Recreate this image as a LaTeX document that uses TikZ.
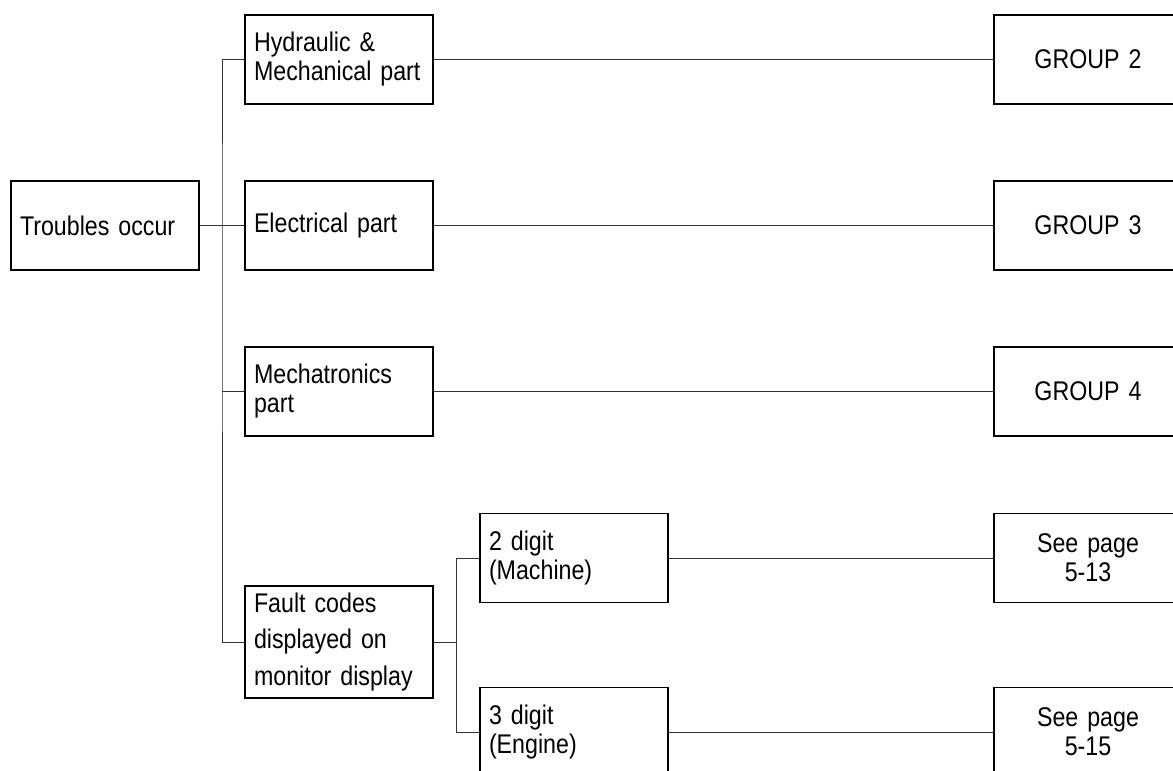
\documentclass[tikz,border=0pt]{standalone}
\usepackage{fontspec}
\setmainfont{Liberation Sans}[FakeStretch=0.86]
\usepackage{tikz}
\usetikzlibrary{calc}

\newcommand{\boxfont}[1]{\fontsize{13.5}{#1}\selectfont\spaceskip=3pt plus 1pt minus 0.5pt\relax}

\begin{document}
\begin{tikzpicture}[x=0.5pt, y=-0.5pt]
    \tikzstyle{block} = [draw, line width=0.6pt, shape=rectangle, minimum height=44.5pt, text width=85pt, inner xsep=4.5pt, align=left, font=\boxfont{14.5}];
    \tikzstyle{tallblock} = [block, minimum height=56pt, font=\boxfont{18.3}];
    \tikzstyle{target} = [block, align=center];
    \tikzstyle{link} = [line width=0.45pt, black!80];

    \useasboundingbox (0,0) rectangle (1173,771);

    % Nodes
    \node [block] (trouble) at (105,225.5) {Troubles occur};
    \node [block, right of=trouble, node distance=117pt] (elec) {Electrical part};
    \node [block, above of=elec, node distance=83pt] (hyd) {Hydraulic \&\\Mechanical part};
    \node [block, below of=elec, node distance=83pt] (mecha) {Mechatronics\\part};
    \node [tallblock, below of=mecha, node distance=125.25pt] (fault) {Fault codes\\displayed on\\monitor display};
    \node [block] (digit2) at ($(fault)+(235,-84)$) {2 digit\\(Machine)};
    \node [block, below of=digit2, node distance=87pt] (digit3) {3 digit\\(Engine)};

    \node [target, right of=hyd, node distance=374.5pt] (group2) {GROUP 2};
    \node [target, right of=elec, node distance=374.5pt] (group3) {GROUP 3};
    \node [target, right of=mecha, node distance=374.5pt] (group4) {GROUP 4};
    \node [target, right of=digit2, node distance=257pt] (page13) {See page\\5-13};
    \node [target, right of=digit3, node distance=257pt] (page15) {See page\\5-15};

    \coordinate (split) at ($(trouble.east)!0.5!(elec.west)$);
    \coordinate (split2) at ($(fault.east)!0.5!(digit2.west)$);

    % Paths
    \draw [link] (trouble) -- (elec);
    \draw [link] (hyd.west) -| (split) |- (fault.west);
    \draw [link] (mecha.west) -- (mecha.west -| split);
    \draw [link] (fault.east) -- (fault.east -| split2);
    \draw [link] (digit2.west) -| (split2) |- (digit3.west);

    \draw [link] (hyd) -- (group2);
    \draw [link] (elec) -- (group3);
    \draw [link] (mecha) -- (group4);
    \draw [link] (digit2) -- (page13);
    \draw [link] (digit3) -- (page15);
\end{tikzpicture}
\end{document}
